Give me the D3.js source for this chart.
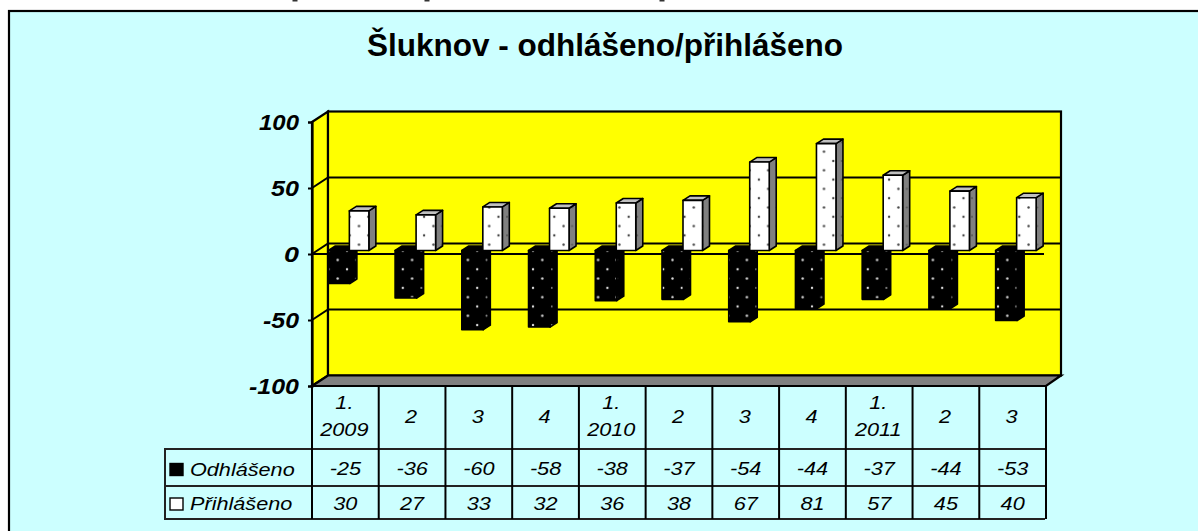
<!DOCTYPE html>
<html><head><meta charset="utf-8">
<script src="https://cdn.jsdelivr.net/npm/d3@7"></script>
<style>html,body{margin:0;padding:0;background:#fff;overflow:hidden}svg{display:block}text{font-family:"Liberation Sans",Arial,sans-serif;fill:#000}</style>
</head><body><div id="c"></div>
<script>
const categories = [["1.","2009"],["2"],["3"],["4"],["1.","2010"],["2"],["3"],["4"],["1.","2011"],["2"],["3"]];
const odhlaseno = [-25,-36,-60,-58,-38,-37,-54,-44,-37,-44,-53];
const prihlaseno = [30,27,33,32,36,38,67,81,57,45,40];
const yTicks = [100,50,0,-50,-100];
const seriesNames = ["Odhlášeno","Přihlášeno"];
const titleText = "Šluknov - odhlášeno/přihlášeno";

const W=1198,H=531;
const svg=d3.select("#c").append("svg").attr("width",W).attr("height",H);
const defs=svg.append("defs");
function pat(id,bg,dot,x0,y0,r){
  const p=defs.append("pattern").attr("id",id).attr("patternUnits","userSpaceOnUse")
    .attr("width",18.6).attr("height",18.6).attr("x",x0).attr("y",y0);
  p.append("rect").attr("width",18.6).attr("height",18.6).attr("fill",bg);
  [[1.5,1.5],[10.8,10.8]].forEach(c=>p.append("circle").attr("cx",c[0]).attr("cy",c[1]).attr("r",r).attr("fill",dot));
}
pat("pw","#fff","#444",822.5,150.2,1.2);
pat("pb","#000","#ddd",801.2,258.5,1.2);
pat("pws","#808080","#555",831,150.2,1);
pat("pbs","#000","#999",801.2,258.5,1);

// page
svg.append("rect").attr("x",9).attr("y",11).attr("width",W).attr("height",H).attr("fill","#ccffff").attr("stroke","#000").attr("stroke-width",2.2);
// clipped remains of the line above the chart
[295,427,662].forEach(px=>svg.append("rect").attr("x",px-2.5).attr("y",0).attr("width",5).attr("height",1.5).attr("fill","#333"));

svg.append("text").attr("x",605).attr("y",55.5).attr("text-anchor","middle").attr("font-weight","bold").attr("font-size",31.5).text(titleText);

// geometry
const left=312,right=1046,dx=16,dy=-10.5;
const y=d3.scaleLinear().domain([-100,100]).range([386,122]);
const x=d3.scaleBand().domain(d3.range(categories.length)).range([left,right]);
const thick=2.2;

// walls
svg.append("polygon").attr("points",[[left,y(100)],[left+dx,y(100)+dy],[left+dx,y(-100)+dy],[left,y(-100)]].join(" ")).attr("fill","#ff0").attr("stroke","#000").attr("stroke-width",thick);
svg.append("rect").attr("x",left+dx).attr("y",y(100)+dy).attr("width",right-left-1).attr("height",y(-100)-y(100)).attr("fill","#ff0").attr("stroke","#000").attr("stroke-width",thick);
svg.append("polygon").attr("points",[[left,y(-100)],[left+dx,y(-100)+dy],[right+dx-1,y(-100)+dy],[right,y(-100)]].join(" ")).attr("fill","#808080").attr("stroke","#000").attr("stroke-width",thick);

// gridlines
const gl=svg.append("g").attr("stroke","#000").attr("stroke-width",2).attr("fill","none");
[50,0,-50].forEach(t=>{
  gl.append("path").attr("d",`M${left},${y(t)}L${left+dx},${y(t)+dy}L${right+dx-1},${y(t)+dy}`);
});
gl.append("line").attr("x1",left).attr("x2",right-2).attr("y1",y(0)).attr("y2",y(0));

// axis
const ax=svg.append("g").attr("transform",`translate(${left},0)`).call(d3.axisLeft(y).tickValues(yTicks).tickSize(4).tickPadding(9).tickFormat(d=>String(d)));
ax.select(".domain").attr("stroke","#000").attr("stroke-width",thick);
ax.selectAll(".tick line").attr("stroke","#000").attr("stroke-width",2);
ax.selectAll("text").attr("font-family","Liberation Sans").attr("font-size",22).attr("font-weight","bold").attr("font-style","italic").attr("fill","#000").attr("dy","0.33em")
  .attr("textLength",d=>({"100":40,"50":28,"0":15,"-50":36,"-100":50})[d]).attr("lengthAdjust","spacingAndGlyphs");

// bars
const bz=7,bh=-4.5,zeroShift=-3.5;
const by=v=>y(v)+zeroShift;
function bar(v,i,x0,x1,front,side,topFill){
  const c=x(i)+x.bandwidth()/2, a=c+x0, b=c+x1;
  const t=Math.max(by(v),by(0)), u=Math.min(by(v),by(0));
  const g=svg.append("g").attr("stroke","#000").attr("stroke-width",1.6).attr("stroke-linejoin","round");
  g.append("polygon").attr("points",[[b,u],[b+bz,u+bh],[b+bz,t+bh],[b,t]].join(" ")).attr("fill",side);
  g.append("polygon").attr("points",[[a,u],[a+bz,u+bh],[b+bz,u+bh],[b,u]].join(" ")).attr("fill",topFill);
  g.append("rect").attr("x",a).attr("y",u).attr("width",b-a).attr("height",t-u).attr("fill",front);
}
odhlaseno.forEach((v,i)=>bar(v,i,-17,4.5,"url(#pb)","url(#pbs)","#000"));
prihlaseno.forEach((v,i)=>bar(v,i,4,23.5,"url(#pw)","url(#pws)","#c0c0c0"));

// data table
const rows=[386,449,486,519], legendLeft=165;
const tb=svg.append("g").attr("stroke","#000").attr("stroke-width",2);
rows.slice(1).forEach(r=>tb.append("line").attr("x1",legendLeft).attr("x2",right-1).attr("y1",r).attr("y2",r).attr("stroke","#222"));
tb.append("line").attr("x1",legendLeft).attr("x2",legendLeft).attr("y1",rows[1]-1).attr("y2",rows[3]+1).attr("stroke","#222");
d3.range(categories.length+1).forEach(i=>{
  const px=i<categories.length?x(i):right;
  tb.append("line").attr("x1",px).attr("x2",px).attr("y1",rows[0]).attr("y2",rows[3]).attr("stroke-width",2);
});
const ft=svg.append("g").attr("font-style","italic").attr("font-size",19).attr("text-anchor","middle");
function cell(px,py,s,anchor){
  ft.append("text").attr("transform",`translate(${px},${py}) scale(1.14,1)`).attr("text-anchor",anchor||"middle").text(s);
}
categories.forEach((lines,i)=>{
  const c=x(i)+x.bandwidth()/2-1;
  const ys=lines.length===2?[409,436]:[422.5];
  lines.forEach((l,j)=>cell(c,ys[j],l));
  cell(c+1,475,odhlaseno[i]);
  cell(c+1,510,prihlaseno[i]);
});
seriesNames.forEach((n,i)=>{
  const cy=[469.5,504][i];
  svg.append("rect").attr("x",170).attr("y",cy-6).attr("width",13).attr("height",12).attr("fill",i?"#fff":"#000").attr("stroke","#000").attr("stroke-width",1.4);
  cell(190,cy+6,n,"start");
});
</script></body></html>
